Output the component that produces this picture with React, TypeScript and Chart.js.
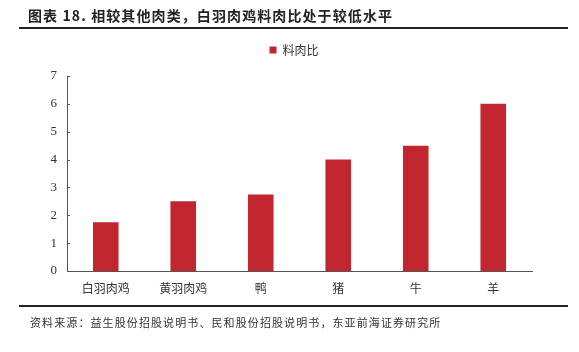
import React, { useEffect, useRef } from "react";
import { Chart, registerables } from "chart.js";

Chart.register(...registerables);

const categories = ["白羽肉鸡", "黄羽肉鸡", "鸭", "猪", "牛", "羊"];
const feedRatio = [1.75, 2.5, 2.75, 4.0, 4.5, 6.0];
const seriesName = "料肉比";
const yTicks = [0, 1, 2, 3, 4, 5, 6, 7];
const titleText = "图表 18. 相较其他肉类，白羽肉鸡料肉比处于较低水平";
const sourceText = "资料来源：益生股份招股说明书、民和股份招股说明书，东亚前海证券研究所";

const BAR = "#C1262F";
const AXIS = "#555555";

const innerTicks = {
  id: "innerTicks",
  afterLayout(chart: any) {
    if (chart.legend) {
      chart.legend.left += 19;
    }
  },
  afterDraw(chart: any) {
    const y = chart.scales.y;
    const ctx = chart.ctx;
    ctx.save();
    ctx.strokeStyle = AXIS;
    ctx.lineWidth = 1;
    ctx.beginPath();
    for (const v of yTicks) {
      const py = Math.round(y.getPixelForValue(v)) + 0.5;
      ctx.moveTo(chart.chartArea.left, py);
      ctx.lineTo(chart.chartArea.left + 3, py);
    }
    ctx.stroke();
    ctx.restore();
  },
};

export default function App() {
  const ref = useRef<HTMLCanvasElement | null>(null);
  useEffect(() => {
    document.body.style.margin = "0";
    const chart = new Chart(ref.current as HTMLCanvasElement, {
      type: "bar",
      data: {
        labels: categories,
        datasets: [
          {
            label: seriesName,
            data: feedRatio,
            backgroundColor: BAR,
            borderWidth: 0,
            categoryPercentage: 1,
            barPercentage: 0.33,
          },
        ],
      },
      options: {
        responsive: false,
        animation: false,
        layout: { padding: { left: 37, right: 47, top: 15, bottom: 51 } },
        plugins: {
          tooltip: { enabled: false },
          title: {
            display: true,
            text: "",
            position: "top",
            weight: 500,
            padding: 0,
            font: { size: 10, lineHeight: 1 },
          },
          legend: {
            display: true,
            position: "top",
            labels: {
              boxWidth: 7,
              boxHeight: 7,
              padding: 29,
              color: "#333",
              font: { family: "'Noto Sans CJK SC'", size: 12 },
            },
          },
        },
        scales: {
          x: {
            grid: { display: false, drawTicks: false },
            border: { display: true, color: AXIS, width: 1 },
            ticks: {
              padding: 10,
              color: "#333",
              font: { family: "'Noto Sans CJK SC'", size: 12 },
              maxRotation: 0,
            },
            afterFit: (s: any) => {
              s.height = 30;
            },
          },
          y: {
            min: 0,
            max: 7,
            grid: { display: false, drawTicks: false },
            border: { display: true, color: AXIS, width: 1 },
            ticks: {
              stepSize: 1,
              padding: 10,
              color: "#333",
              font: { family: "'Liberation Serif'", size: 13 },
            },
            afterFit: (s: any) => {
              s.width = 30;
            },
          },
        },
      },
      plugins: [innerTicks],
    });
    return () => chart.destroy();
  }, []);

  return (
    <div style={{ position: "relative", width: 579, height: 352, background: "#fff", overflow: "hidden" }}>
      <canvas ref={ref} width={579} height={352} style={{ position: "absolute", left: 0, top: 0 }} />
      <div
        style={{
          position: "absolute",
          left: 28,
          top: 5,
          fontFamily: "'Noto Sans CJK SC'",
          fontWeight: 700,
          fontSize: 14,
          letterSpacing: 1.1,
          color: "#222",
          lineHeight: "20px",
          whiteSpace: "nowrap",
        }}
      >
        {titleText}
      </div>
      <div style={{ position: "absolute", left: 19, top: 27, width: 549, height: 2, background: "#222" }} />
      <div style={{ position: "absolute", left: 19, top: 305, width: 549, height: 2, background: "#222" }} />
      <div
        style={{
          position: "absolute",
          left: 30,
          top: 313,
          fontFamily: "'Noto Sans CJK SC'",
          fontSize: 11,
          letterSpacing: 1.1,
          color: "#333",
          lineHeight: "18px",
          whiteSpace: "nowrap",
        }}
      >
        {sourceText}
      </div>
    </div>
  );
}
